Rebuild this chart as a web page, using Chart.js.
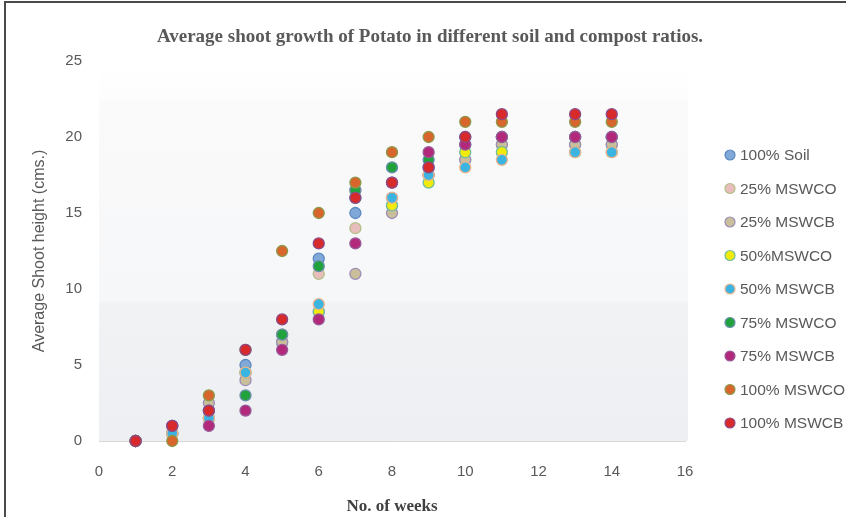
<!DOCTYPE html>
<html>
<head>
<meta charset="utf-8">
<script src="https://cdn.jsdelivr.net/npm/chart.js@4/dist/chart.umd.min.js"></script>
<style>
  html, body { margin: 0; padding: 0; background: #ffffff; }
  #wrap { position: relative; width: 846px; height: 517px; }
</style>
</head>
<body>
<div id="wrap"><canvas id="chart" width="846" height="517"></canvas></div>
<script>
// Weeks at which shoot height was measured
const weeks = [1, 2, 3, 4, 5, 6, 7, 8, 9, 10, 11, 13, 14];

// Average shoot height (cm) per treatment
const soil100   = [0, 0.5, 2,   5,   6.5, 12,   15,   16,   18,   19.5, 20,   20,   20];
const mswco25   = [0, 0.5, 1.5, 4.5, 6.5, 11,   14,   15.5, 17.5, 18.5, 19.5, 19.5, 19.5];
const mswcb25   = [0, 0.5, 2.5, 4,   6.5, 8.5,  11,   15,   17.5, 18.5, 19.5, 19.5, 19.5];
const mswco50   = [0, 0.5, 1.5, 4.5, 7,   8.5,  16,   15.5, 17,   19,   19,   19,   19];
const mswcb50   = [0, 0.5, 1.5, 4.5, 7,   9,    16.5, 16,   17.5, 18,   18.5, 19,   19];
const mswco75   = [0, 1,   2,   3,   7,   11.5, 16.5, 18,   18.5, 20,   20,   20,   20];
const mswcb75   = [0, 1,   1,   2,   6,   8,    13,   17,   19,   19.5, 20,   20,   20];
const mswco100  = [0, 0,   3,   6,   12.5, 15,  17,   19,   20,   21,   21,   21,   21];
const mswcb100  = [0, 1,   2,   6,   8,   13,   16,   17,   18,   20,   21.5, 21.5, 21.5];

const seriesNames = ['100% Soil', '25% MSWCO', '25% MSWCB', '50%MSWCO', '50% MSWCB',
                     '75% MSWCO', '75% MSWCB', '100% MSWCO', '100% MSWCB'];
const seriesValues = [soil100, mswco25, mswcb25, mswco50, mswcb50, mswco75, mswcb75, mswco100, mswcb100];

const xTicks = [0, 2, 4, 6, 8, 10, 12, 14, 16];
const yTicks = [0, 5, 10, 15, 20, 25];

const chartTitle = 'Average shoot growth of Potato in different soil and compost ratios.';

// Marker fill / outline per treatment
const fills   = ['#80a9d8', '#e8bdbb', '#c9bf9a', '#f2ea0a', '#3bb4e2', '#22a23c', '#b2287a', '#d8652b', '#d82a2b'];
const borders = ['#5b88c2', '#b3c088', '#9d8db8', '#6dbd9e', '#efb489', '#6a8fae', '#985a98', '#8d9a4c', '#8a4a88'];

const n = seriesNames.length;
const datasets = seriesNames.map((name, i) => ({
  label: name,
  data: weeks.map((w, k) => ({ x: w, y: seriesValues[i][k] })),
  backgroundColor: fills[i],
  borderColor: borders[i],
  borderWidth: 1.3,
  pointRadius: 5.5,
  pointHoverRadius: 5.5,
  clip: false,
  order: n - 1 - i   // later treatments are painted on top
}));

const GREY = '#595959';

// Soft gradient behind the plot, the heading and the outer frame lines
const decor = {
  id: 'decor',
  beforeDatasetsDraw(chart) {
    const { ctx, chartArea: a } = chart;
    const g = ctx.createLinearGradient(0, a.top, 0, a.bottom);
    g.addColorStop(0, '#ffffff');
    g.addColorStop(0.10, '#fdfdfd');
    g.addColorStop(0.105, '#fafafb');
    g.addColorStop(0.63, '#f6f7f8');
    g.addColorStop(0.64, '#f1f2f4');
    g.addColorStop(1, '#eeeff2');
    ctx.save();
    ctx.fillStyle = g;
    ctx.fillRect(a.left, a.top, a.right - a.left + 3, a.bottom - a.top);
    ctx.restore();
  },
  afterDraw(chart) {
    const { ctx, width, height } = chart;
    ctx.save();
    ctx.fillStyle = GREY;
    ctx.font = 'bold 19px "Liberation Serif", "Times New Roman", serif';
    ctx.textAlign = 'center';
    ctx.textBaseline = 'middle';
    ctx.fillText(chartTitle, 430, 37);

    ctx.strokeStyle = '#4a4a4a';
    ctx.lineWidth = 2;
    ctx.beginPath();
    ctx.moveTo(5, height);
    ctx.lineTo(5, 2);
    ctx.lineTo(width, 2);
    ctx.stroke();
    ctx.restore();
  }
};

// Vertical legend to the right of the plot
const sideLegend = {
  id: 'sideLegend',
  afterDraw(chart) {
    const { ctx, chartArea: a } = chart;
    const x0 = a.right + 45;
    const y0 = a.top + 94;
    const step = 33.5;
    ctx.save();
    ctx.font = '15.5px "Liberation Sans", Arial, sans-serif';
    ctx.textBaseline = 'middle';
    ctx.textAlign = 'left';
    chart.data.datasets.forEach((ds, i) => {
      const y = y0 + i * step;
      ctx.beginPath();
      ctx.arc(x0, y, 5, 0, Math.PI * 2);
      ctx.fillStyle = ds.backgroundColor;
      ctx.fill();
      ctx.lineWidth = 1.2;
      ctx.strokeStyle = ds.borderColor;
      ctx.stroke();
      ctx.fillStyle = GREY;
      ctx.fillText(ds.label, x0 + 10, y + 1);
    });
    ctx.restore();
  }
};

new Chart(document.getElementById('chart'), {
  type: 'scatter',
  data: { datasets },
  plugins: [decor, sideLegend],
  options: {
    responsive: false,
    animation: false,
    events: [],
    layout: { padding: { left: 0, right: 161, top: 61, bottom: 0 } },
    plugins: {
      legend: { display: false },
      tooltip: { enabled: false },
      title: { display: false }
    },
    scales: {
      x: {
        type: 'linear',
        min: 0, max: 16,
        afterBuildTicks(s) { s.ticks = xTicks.map(v => ({ value: v })); },
        afterFit(s) { s.height = 76; },
        grid: { display: false, drawTicks: false },
        border: { display: true, color: '#d9d9d9', width: 1 },
        ticks: {
          padding: 22,
          color: GREY,
          font: { family: '"Liberation Sans", Arial, sans-serif', size: 15 }
        },
        title: {
          display: true,
          text: 'No. of weeks',
          color: '#404040',
          font: { family: '"Liberation Serif", "Times New Roman", serif', size: 17, weight: 'bold' },
          padding: { top: 0, bottom: 0 }
        }
      },
      y: {
        type: 'linear',
        min: 0, max: 25,
        afterBuildTicks(s) { s.ticks = yTicks.map(v => ({ value: v })); },
        afterFit(s) { s.width = 99; },
        grid: { display: false, drawTicks: false },
        border: { display: true, color: '#d9d9d9', width: 1 },
        ticks: {
          padding: 17,
          color: GREY,
          font: { family: '"Liberation Sans", Arial, sans-serif', size: 15 }
        },
        title: {
          display: true,
          text: 'Average Shoot height (cms.)',
          color: GREY,
          font: { family: '"Liberation Sans", Arial, sans-serif', size: 16 },
          padding: { top: 30, bottom: 0 }
        }
      }
    }
  }
});
</script>
</body>
</html>
